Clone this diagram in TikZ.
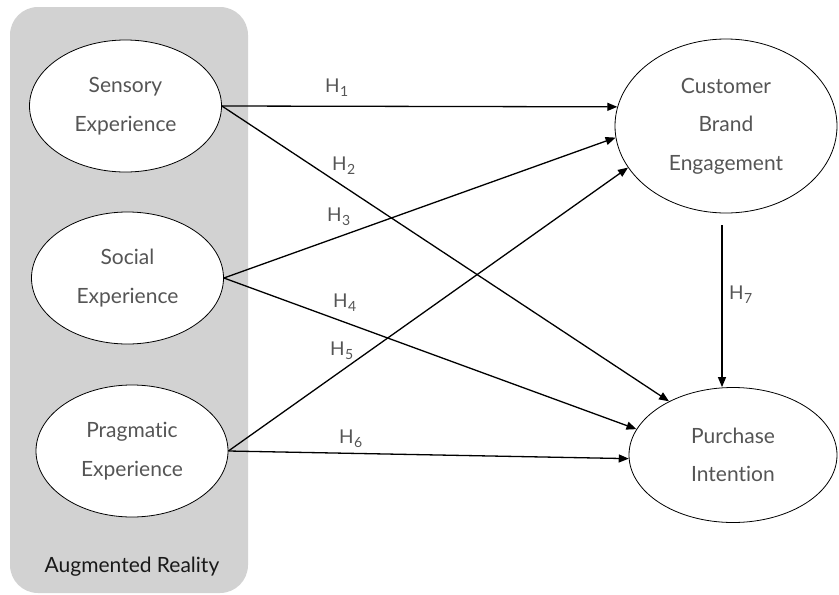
\documentclass[tikz,border=0pt]{standalone}
\usepackage{fontspec}
\setmainfont{Lato}[Ligatures={NoCommon,NoRare}]
\usetikzlibrary{shapes.geometric,arrows.meta}

\definecolor{panelgray}{RGB}{210,210,210}
\definecolor{txtgray}{RGB}{85,85,85}

\newcommand\ovalfont{\fontsize{21}{38.5}\selectfont}
\newcommand\hypfont{\fontsize{19}{19}\selectfont}
% hypothesis label: H with a lowered index
\newcommand\hyp[1]{H\kern0.5pt\raisebox{-4pt}{\fontsize{14}{14}\selectfont #1}}

\tikzset{
  construct/.style={ellipse, draw=black, line width=0.8pt, fill=white,
    inner sep=0pt, text=txtgray, align=center, font=\ovalfont},
  leftconstruct/.style={construct, minimum width=192pt, minimum height=132pt},
  link/.style={draw=black, line width=1.3pt,
    -{Triangle[length=10pt,width=8pt]}},
  hlab/.style={anchor=base west, inner sep=0pt, text=txtgray, font=\hypfont},
}

\begin{document}
\begin{tikzpicture}[x=1pt,y=-1pt]
  \useasboundingbox (0,0) rectangle (839,595);

  % Augmented Reality panel
  \node[draw=none, fill=panelgray, rounded corners=28pt, inner sep=0pt,
        minimum width=238pt, minimum height=586pt] (panel) at (129,300) {};
  \node[font=\fontsize{21}{21}\selectfont, text=black!90] (artitle) at (132,567) {Augmented Reality};

  % constructs
  \node[leftconstruct] (sens) at (125.5,106) {Sensory\\Experience};
  \node[leftconstruct] (soc)  at (127.5,278) {Social\\Experience};
  \node[leftconstruct] (prag) at (132,451)   {Pragmatic\\Experience};
  \node[construct, minimum width=222pt, minimum height=174pt] (cbe) at (726,126)
    {Customer\\Brand\\Engagement};
  \node[construct, minimum width=208pt, minimum height=135pt] (pi) at (733,455)
    {Purchase\\Intention};

  % hypothesised paths
  \draw[link] (sens.east) -- (cbe.170);
  \draw[link] (sens.east) -- (pi.140);
  \draw[link] (soc.east)  -- (cbe.186);
  \draw[link] (soc.east)  -- (pi.165);
  \draw[link] (prag.east) -- (cbe.203);
  \draw[link] (prag.east) -- (pi.182);
  \coordinate (h7start) at ([xshift=-4pt,yshift=-12pt]cbe.south);
  \draw[link] (h7start) -- (h7start |- pi.north);

  % path labels
  \node[hlab] (h1) at (325,92)  {\hyp{1}};
  \node[hlab] (h2) at (332,170) {\hyp{2}};
  \node[hlab] (h3) at (327,221) {\hyp{3}};
  \node[hlab] (h4) at (333,307) {\hyp{4}};
  \node[hlab] (h5) at (330,355) {\hyp{5}};
  \node[hlab] (h6) at (339,443) {\hyp{6}};
  \node[hlab] (h7) at (729,299) {\hyp{7}};
\end{tikzpicture}
\end{document}
